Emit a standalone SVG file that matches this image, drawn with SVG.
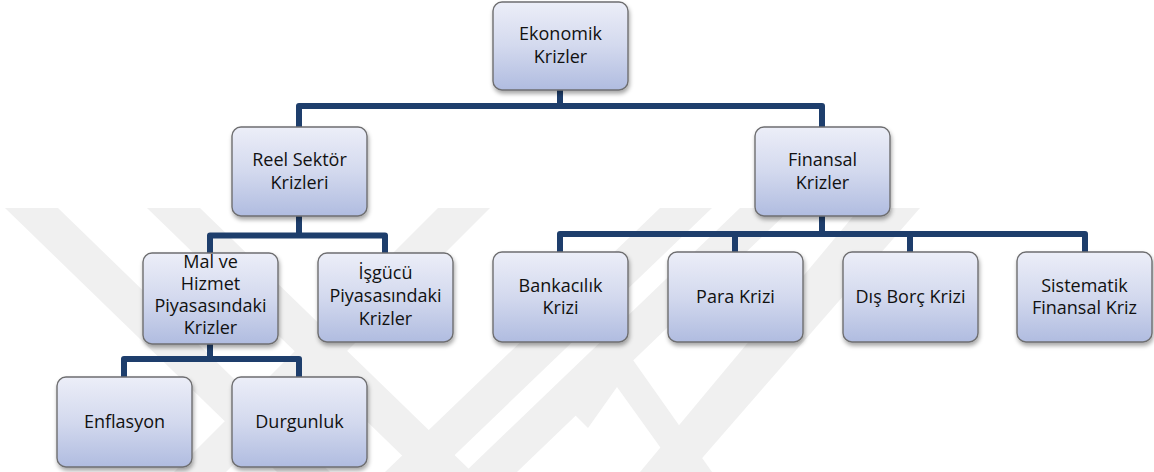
<svg xmlns="http://www.w3.org/2000/svg" width="1154" height="472" viewBox="0 0 1154 472">
<defs>
<linearGradient id="g" x1="0" y1="0" x2="0" y2="1">
<stop offset="0" stop-color="#eceef8"/>
<stop offset="0.5" stop-color="#d3d9ee"/>
<stop offset="1" stop-color="#b0bce0"/>
</linearGradient>
<filter id="sh" x="-10%" y="-10%" width="125%" height="135%">
<feDropShadow dx="1" dy="3" stdDeviation="2" flood-color="#000" flood-opacity="0.35"/>
</filter>
<style>
.box{fill:url(#g);stroke:#6e6e70;stroke-width:1.4;filter:url(#sh)}
.t{font-family:"Open Sans","Liberation Sans",sans-serif;font-size:18px;fill:#111;text-anchor:middle}
.c{fill:none;stroke:#1e3e6c;stroke-width:6;stroke-linejoin:round}
.wm{fill:#f0f0f0}
</style>
</defs>
<rect width="1154" height="472" fill="#fff"/>
<g id="watermark">
<polygon class="wm" points="5,208 58,208 330,472 277,472"/>
<polygon class="wm" points="147,208 200,208 472,472 419,472"/>
<polygon class="wm" points="438,208 490,208 226,472 174,472"/>
<polygon class="wm" points="660,208 712,208 437,472 385,472"/>
<polygon class="wm" points="740,208 792,208 517,472 465,472"/>
<polygon class="wm" points="860,208 920,208 690,472 640,472"/>
<polygon class="wm" points="633,360 712,472 678,472 617,387 588,428 570,410"/>
</g>
<g id="connectors">
<path class="c" d="M560,90 V106 M299,127 V106 H822 V127"/>
<path class="c" d="M299,216 V235.5 M210,253 V235.5 H385 V253"/>
<path class="c" d="M210,344 V359 M124,377 V359 H299 V377"/>
<path class="c" d="M822,216 V234 M560,252 V234 H1085 V252 M735,234 V252 M910,234 V252"/>
</g>
<g id="n-ekonomik">
<rect class="box" x="493" y="2" width="135" height="88" rx="9"/>
<text class="t" x="560.5" y="40">Ekonomik</text>
<text class="t" x="560.5" y="63">Krizler</text>
</g>
<g id="n-reel">
<rect class="box" x="232" y="127" width="135" height="89" rx="9"/>
<text class="t" x="299.5" y="166">Reel Sektör</text>
<text class="t" x="299.5" y="189">Krizleri</text>
</g>
<g id="n-finansal">
<rect class="box" x="755" y="127" width="135" height="89" rx="9"/>
<text class="t" x="822.5" y="166">Finansal</text>
<text class="t" x="822.5" y="189">Krizler</text>
</g>
<g id="n-malhizmet">
<rect class="box" x="143" y="253" width="135" height="91" rx="9"/>
<text class="t" x="210.5" y="268">Mal ve</text>
<text class="t" x="210.5" y="290">Hizmet</text>
<text class="t" x="210.5" y="312">Piyasasındaki</text>
<text class="t" x="210.5" y="334">Krizler</text>
</g>
<g id="n-isgucu">
<rect class="box" x="318" y="253" width="135" height="89" rx="9"/>
<text class="t" x="385.5" y="279">İşgücü</text>
<text class="t" x="385.5" y="302">Piyasasındaki</text>
<text class="t" x="385.5" y="325">Krizler</text>
</g>
<g id="n-bankacilik">
<rect class="box" x="493" y="252" width="135" height="90" rx="9"/>
<text class="t" x="560.5" y="292">Bankacılık</text>
<text class="t" x="560.5" y="314">Krizi</text>
</g>
<g id="n-para">
<rect class="box" x="668" y="252" width="135" height="90" rx="9"/>
<text class="t" x="735.5" y="303">Para Krizi</text>
</g>
<g id="n-disborc">
<rect class="box" x="843" y="252" width="135" height="90" rx="9"/>
<text class="t" x="910.5" y="303">Dış Borç Krizi</text>
</g>
<g id="n-sistematik">
<rect class="box" x="1017" y="252" width="135" height="90" rx="9"/>
<text class="t" x="1084.5" y="292">Sistematik</text>
<text class="t" x="1084.5" y="314">Finansal Kriz</text>
</g>
<g id="n-enflasyon">
<rect class="box" x="57" y="377" width="135" height="90" rx="9"/>
<text class="t" x="124.5" y="428">Enflasyon</text>
</g>
<g id="n-durgunluk">
<rect class="box" x="232" y="377" width="135" height="90" rx="9"/>
<text class="t" x="299.5" y="428">Durgunluk</text>
</g>
</svg>
